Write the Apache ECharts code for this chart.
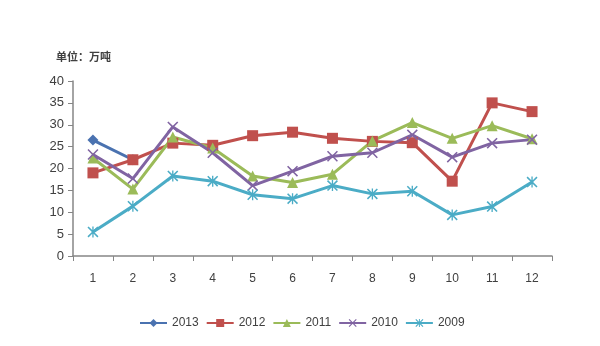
<!DOCTYPE html>
<html>
<head>
<meta charset="utf-8">
<script src="https://cdn.jsdelivr.net/npm/echarts@6/dist/echarts.min.js"></script>
<style>html,body{margin:0;padding:0;background:#fff;}#c{width:600px;height:346px;}</style>
</head>
<body>
<div id="c"></div>
<script>
var categories = ['1','2','3','4','5','6','7','8','9','10','11','12'];
var s2013 = [26.5, 22, null, null, null, null, null, null, null, null, null, null];
var s2012 = [19.0, 22.0, 25.8, 25.3, 27.5, 28.3, 26.9, 26.2, 25.9, 17.1, 35.0, 33.0];
var s2011 = [22.4, 15.3, 27.2, 24.7, 18.3, 16.8, 18.7, 26.3, 30.5, 26.9, 29.8, 26.8];
var s2010 = [23.2, 17.7, 29.5, 23.6, 16.1, 19.4, 22.8, 23.6, 27.7, 22.6, 25.8, 26.6];
var s2009 = [5.5, 11.4, 18.3, 17.1, 14.0, 13.1, 16.1, 14.2, 14.8, 9.4, 11.3, 16.9];
var yTicks = [0, 5, 10, 15, 20, 25, 30, 35, 40];

var xPath = 'path://M1,0 L5,4 L9,0 L10,1 L6,5 L10,9 L9,10 L5,6 L1,10 L0,9 L4,5 L0,1 Z';
var starPath = 'path://M1,0 L5,4 L9,0 L10,1 L6,5 L10,9 L9,10 L5,6 L1,10 L0,9 L4,5 L0,1 Z M4.4,0 L5.6,0 L5.6,10 L4.4,10 Z';

function mk(name, data, color, symbol, size) {
  return {
    name: name, type: 'line', data: data, symbol: symbol, symbolSize: size,
    showAllSymbol: true, connectNulls: false,
    lineStyle: { color: color, width: 3 },
    itemStyle: { color: color },
    emphasis: { disabled: true }
  };
}
var chart = echarts.init(document.getElementById('c'), null, { renderer: 'canvas' });
chart.setOption({
  animation: false,
  backgroundColor: '#ffffff',
  title: {
    text: '单位：万吨', left: 51, top: 46,
    textStyle: { fontSize: 11, fontWeight: 'bold', color: '#404040', fontFamily: 'Noto Sans CJK SC' }
  },
  legend: {
    left: 134, top: 312, itemWidth: 27, itemHeight: 10, itemGap: 7,
    textStyle: { fontSize: 12, color: '#404040', fontFamily: 'Liberation Sans' },
    data: ['2013', '2012', '2011', '2010', '2009']
  },
  grid: { left: 73, right: 48, top: 81, bottom: 90 },
  xAxis: {
    type: 'category', data: categories, boundaryGap: true,
    axisLine: { lineStyle: { color: '#868686', width: 1.5 } },
    axisTick: { show: true, lineStyle: { color: '#868686' }, length: 5 },
    axisLabel: { color: '#404040', fontSize: 12, margin: 17, fontFamily: 'Liberation Sans' },
    splitLine: { show: false }
  },
  yAxis: {
    type: 'value', min: yTicks[0], max: yTicks[yTicks.length - 1], interval: 5,
    axisLine: { show: true, lineStyle: { color: '#868686', width: 1.5 } },
    axisTick: { show: true, lineStyle: { color: '#868686' }, length: 5 },
    axisLabel: { color: '#404040', fontSize: 13, margin: 9, fontFamily: 'Liberation Sans' },
    splitLine: { show: false }
  },
  series: [
    mk('2013', s2013, '#4a72b0', 'diamond', 11),
    mk('2012', s2012, '#c0504d', 'rect', 11),
    mk('2011', s2011, '#9bbb59', 'triangle', 11),
    mk('2010', s2010, '#8064a2', xPath, 11),
    mk('2009', s2009, '#4bacc6', starPath, 11)
  ]
});
</script>
</body>
</html>
